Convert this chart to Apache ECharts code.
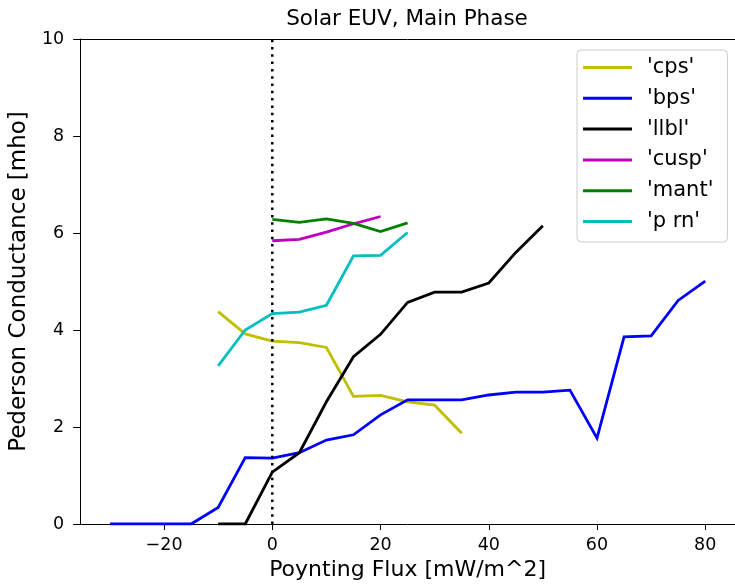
<!DOCTYPE html>
<html>
<head>
<meta charset="utf-8">
<script src="https://cdn.jsdelivr.net/npm/echarts@6/dist/echarts.min.js"></script>
<style>
  html, body { margin: 0; padding: 0; background: #fff; overflow: hidden; }
  #chart { width: 735px; height: 586px; }
</style>
</head>
<body>
<div id="chart"></div>
<script>
// Poynting flux bins (mW/m^2)
const fluxBps  = [-30, -25, -20, -15, -10, -5, 0, 5, 10, 15, 20, 25, 30, 35, 40, 45, 50, 55, 60, 65, 70, 75, 80];
const fluxLlbl = [-10, -5, 0, 5, 10, 15, 20, 25, 30, 35, 40, 45, 50];
const fluxCps  = [-10, -5, 0, 5, 10, 15, 20, 25, 30, 35];
const fluxCusp = [0, 5, 10, 15, 20];
const fluxMant = [0, 5, 10, 15, 20, 25];
const fluxPrn  = [-10, -5, 0, 5, 10, 15, 20, 25];

// Pedersen conductance (mho) per region
const cps  = [4.38, 3.92, 3.77, 3.74, 3.64, 2.63, 2.65, 2.52, 2.45, 1.87];
const bps  = [0, 0, 0, 0, 0.34, 1.37, 1.36, 1.47, 1.73, 1.84, 2.25, 2.56, 2.56, 2.56, 2.66, 2.72, 2.72, 2.76, 1.77, 3.86, 3.88, 4.61, 5.01];
const llbl = [0, 0, 1.07, 1.47, 2.52, 3.45, 3.91, 4.57, 4.78, 4.78, 4.97, 5.60, 6.15];
const cusp = [5.84, 5.87, 6.02, 6.19, 6.34];
const mant = [6.28, 6.22, 6.29, 6.20, 6.03, 6.21];
const prn  = [3.26, 4.00, 4.34, 4.37, 4.51, 5.53, 5.54, 6.01];

const names  = ["'cps'", "'bps'", "'llbl'", "'cusp'", "'mant'", "'p rn'"];
const xTicks = [-20, 0, 20, 40, 60, 80];

const FONT = 'DejaVu Sans';
const colors = ['#bfbf00', '#0000ff', '#000000', '#bf00bf', '#008000', '#00bfbf'];

function pairs(xs, ys) { return xs.map((x, i) => [x, ys[i]]); }
function fmt(v) { return v < 0 ? '\u2212' + Math.abs(v) : String(v); }

const seriesData = [
  pairs(fluxCps, cps), pairs(fluxBps, bps), pairs(fluxLlbl, llbl),
  pairs(fluxCusp, cusp), pairs(fluxMant, mant), pairs(fluxPrn, prn)
];

const series = seriesData.map((d, i) => ({
  name: names[i],
  type: 'line',
  data: d,
  symbol: 'none',
  silent: true,
  animation: false,
  z: 3,
  lineStyle: { color: colors[i], width: 2.8, cap: 'butt', join: 'miter' },
  itemStyle: { color: colors[i] }
}));

// dotted reference line at zero flux
series.push({
  name: 'zero',
  type: 'line',
  data: [[0, 0], [0, 10]],
  symbol: 'none',
  silent: true,
  animation: false,
  z: 4,
  lineStyle: { color: '#000', width: 2.5, type: [2.5, 4.8] }
});

const chart = echarts.init(document.getElementById('chart'), null, { renderer: 'canvas' });
chart.setOption({
  animation: false,
  backgroundColor: '#fff',
  title: {
    text: 'Solar EUV, Main Phase',
    left: 407, top: 8, textAlign: 'center',
    padding: 0,
    textStyle: { fontFamily: FONT, fontSize: 21.5, fontWeight: 'normal', color: '#000' }
  },
  grid: { left: 80, right: 0, top: 39, bottom: 57, containLabel: false },
  legend: {
    orient: 'vertical',
    left: 577, top: 50,
    padding: [7, 14, 10, 6],
    itemGap: 9.8,
    itemWidth: 49, itemHeight: 3,
    icon: 'rect',
    data: names,
    borderColor: '#cccccc', borderWidth: 1, borderRadius: 4,
    backgroundColor: 'rgba(255,255,255,0.8)',
    textStyle: { fontFamily: FONT, fontSize: 21, color: '#000', padding: [0, 0, 0, 10] }
  },
  xAxis: {
    type: 'value',
    min: -35.5, max: 85.5,
    name: 'Poynting Flux [mW/m^2]',
    nameLocation: 'middle',
    nameGap: 35,
    nameTextStyle: { fontFamily: FONT, fontSize: 22, color: '#000' },
    axisLine: { show: true, onZero: false, lineStyle: { color: '#000', width: 1 } },
    axisTick: { show: true, inside: false, length: 6, customValues: xTicks, lineStyle: { color: '#000', width: 1 } },
    axisLabel: { customValues: xTicks, margin: 12, formatter: fmt, fontFamily: FONT, fontSize: 17.5, color: '#000' },
    splitLine: { show: false }
  },
  yAxis: {
    type: 'value',
    min: 0, max: 10, interval: 2,
    name: 'Pederson Conductance [mho]',
    nameLocation: 'middle',
    nameGap: 41,
    nameRotate: 90,
    nameTextStyle: { fontFamily: FONT, fontSize: 23, color: '#000' },
    axisLine: { show: true, onZero: false, lineStyle: { color: '#000', width: 1 } },
    axisTick: { show: true, inside: false, length: 7, lineStyle: { color: '#000', width: 1 } },
    axisLabel: { margin: 16, fontFamily: FONT, fontSize: 17.5, color: '#000' },
    splitLine: { show: false }
  },
  series: series
});

// top edge of the plot frame at the y-axis maximum
const topY = Math.round(chart.convertToPixel({ gridIndex: 0 }, [0, 10])[1]) + 0.5;
const leftX = chart.convertToPixel({ gridIndex: 0 }, [-35.5, 0])[0];
chart.setOption({
  graphic: [{
    type: 'line', silent: true, z: 5,
    shape: { x1: leftX, y1: topY, x2: chart.getWidth(), y2: topY },
    style: { stroke: '#000', lineWidth: 1 }
  }]
});
</script>
</body>
</html>
